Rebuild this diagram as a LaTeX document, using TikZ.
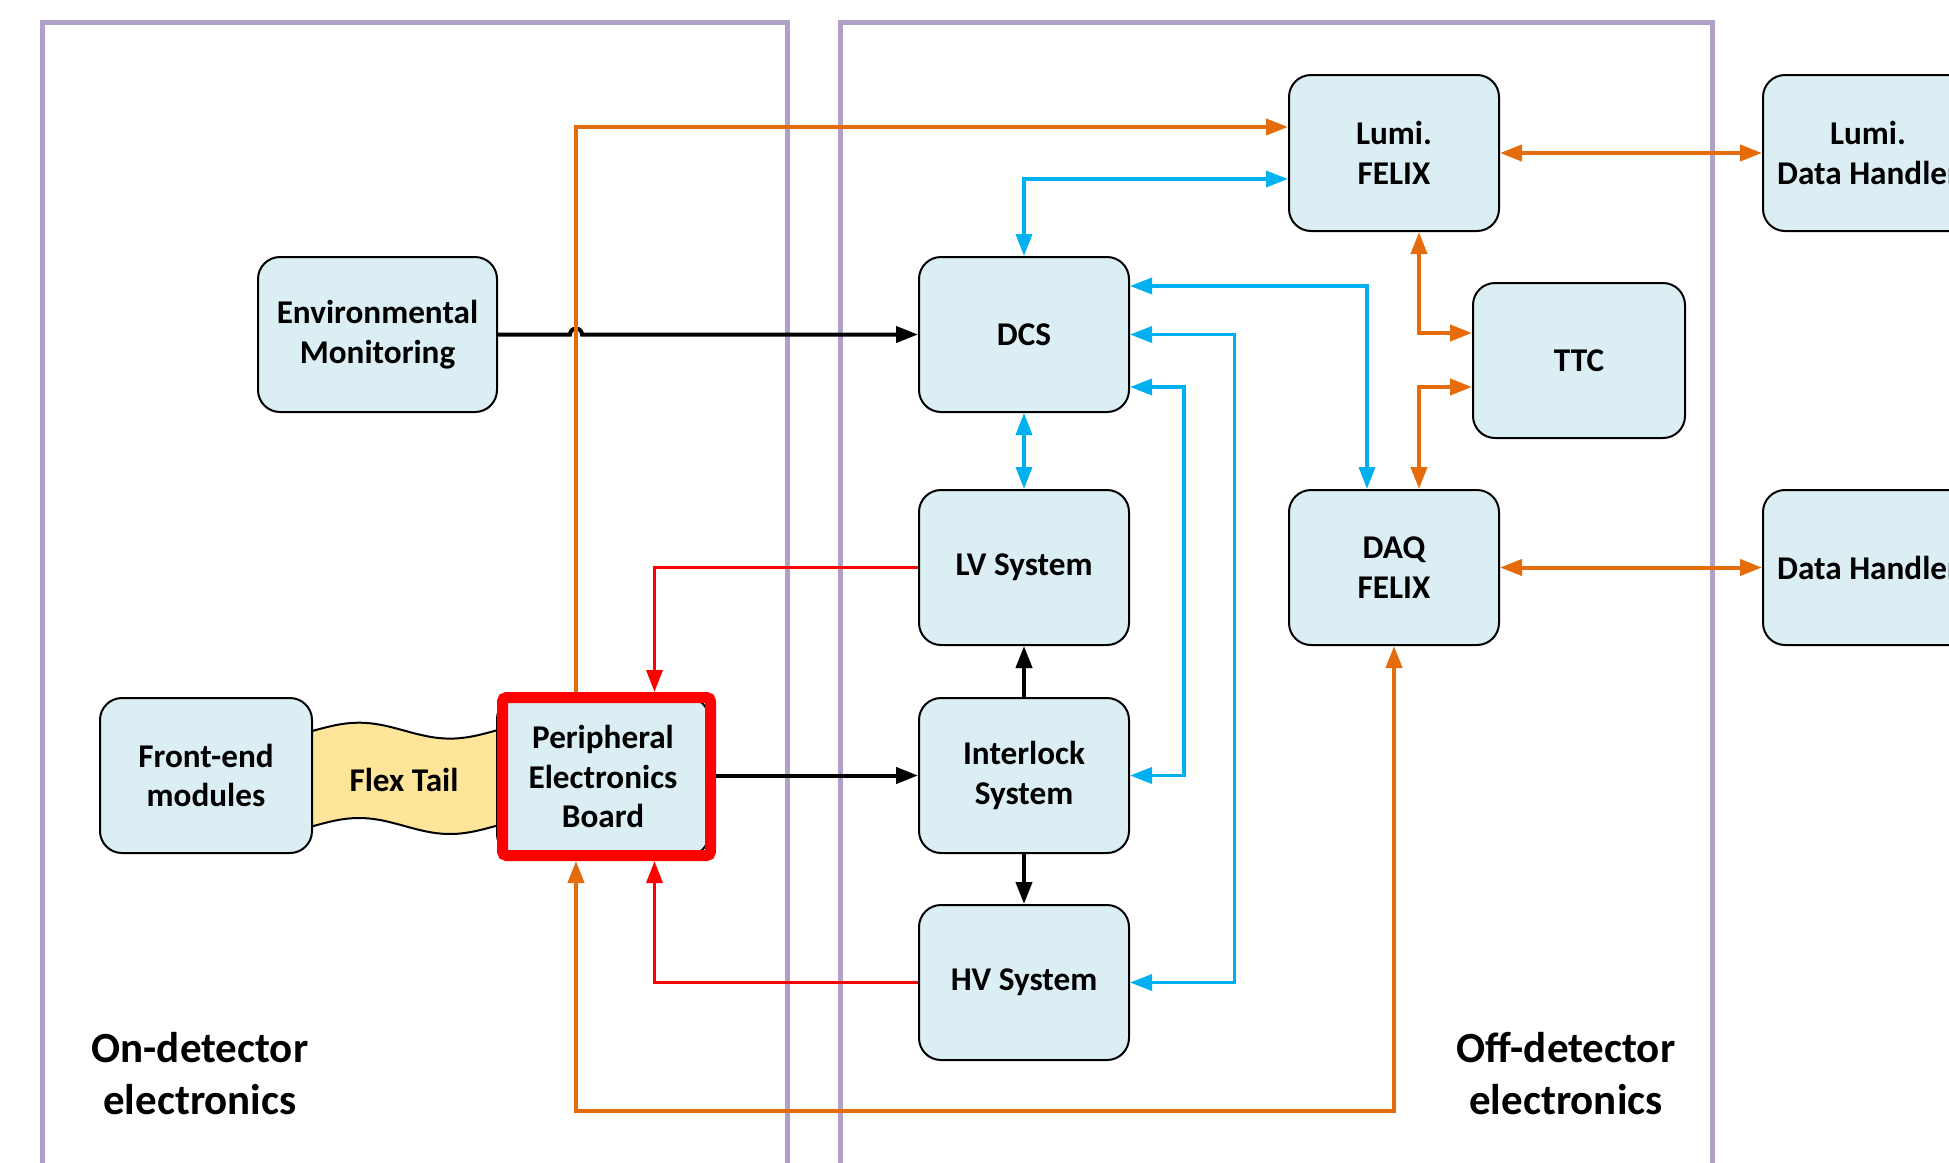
\documentclass[tikz,border=0pt]{standalone}
\usepackage{fontspec}
\setmainfont{Carlito}
\usetikzlibrary{arrows.meta,calc}
\definecolor{boxblue}{RGB}{218,238,243}
\definecolor{myorange}{RGB}{228,108,10}
\definecolor{myblue}{RGB}{0,176,240}
\definecolor{framecol}{RGB}{176,160,200}
\definecolor{flexfill}{RGB}{255,229,153}
\newcommand\bxfont{\bfseries\fontsize{16.6}{19.9}\selectfont}
\newcommand\lblfont{\bfseries\fontsize{21.5}{26}\selectfont}
\tikzset{
  boxst/.style={draw=black, line width=1pt, fill=boxblue, rounded corners=11pt,
    minimum width=105pt, minimum height=77.5pt, inner sep=0pt, align=center, font=\bxfont},
  conn/.style={line width=2pt, >={Triangle[length=11pt,width=8pt]}},
  orng/.style={conn, draw=myorange},
  blu/.style={conn, line width=1.75pt, draw=myblue},
  blk/.style={conn, draw=black},
  rd/.style={conn, line width=1.75pt, draw=red},
  framest/.style={draw=framecol, line width=2.5pt}
}
\begin{document}
\begin{tikzpicture}[x=0.5pt,y=-0.5pt]
\useasboundingbox (0,0) rectangle (1949,1162);
\clip (0,0) rectangle (1949,1162);
% frames
\draw[framest] (42,1200) -- (42,22) -- (787,22) -- (787,1200);
\draw[framest] (840,1200) -- (840,22) -- (1712,22) -- (1712,1200);
% flex tail
\fill[flexfill] plot[domain=312:497,samples=50] (\x,{730.65-7.95*cos((\x-359)/91*180)})
  -- plot[domain=497:312,samples=50] (\x,{826-8*cos((\x-359)/91*180)}) -- cycle;
\draw[line width=1pt] plot[domain=312:497,samples=50] (\x,{730.65-7.95*cos((\x-359)/91*180)});
\draw[line width=1pt] plot[domain=312:497,samples=50] (\x,{826-8*cos((\x-359)/91*180)});
\node[font=\bxfont] (flex) at (404,779.5) {Flex Tail};
% boxes
\node[boxst, minimum width=119.5pt] (env) at (377.5,334.5) {Environmental\\Monitoring};
\node[boxst] (dcs) at (1024,334.5) {DCS};
\node[boxst, minimum height=78pt] (lfelix) at (1394,153) {Lumi.\\FELIX};
\node[boxst, minimum height=78pt] (ldh) at (1868,153) {Lumi.\\Data Handler};
\node[boxst, minimum width=106pt] (ttc) at (1579,360.5) {TTC};
\node[boxst] (lv) at (1024,567.5) {LV System};
\node[boxst] (daq) at (1394,567.5) {DAQ\\FELIX};
\node[boxst] (dh) at (1868,567.5) {Data Handler};
\node[boxst] (il) at (1024,775.5) {Interlock\\System};
\node[boxst] (hv) at (1024,982.5) {HV System};
\node[boxst, minimum width=106pt] (fe) at (206,775.5) {Front-end\\modules};
\node[boxst, minimum width=106pt, minimum height=79.5pt] (peb) at (603,776.5) {Peripheral\\Electronics\\Board};
\node[draw=red, line width=5.5pt, rounded corners=2pt, minimum width=104pt, minimum height=79pt, inner sep=0pt] (pebf) at (606.5,776.5) {};
% labels
\node[font=\lblfont, align=center] (onl) at (200,1074) {On-detector\\electronics};
\node[font=\lblfont, align=center] (offl) at (1566,1074) {Off-detector\\electronics};
% helper coordinates
\coordinate (xo) at (576,0);
\coordinate (xr) at (654.5,0);
\coordinate (xt) at (1419,0);
\coordinate (xb1) at (1367,0);
\coordinate (xb2) at (1234.5,0);
\coordinate (xb3) at (1184,0);
\coordinate (yb) at (0,1111);
\coordinate (hopL) at (570,334.5);
\coordinate (d1) at ([yshift=24.25pt]dcs.east);
\coordinate (d3) at ([yshift=-26.25pt]dcs.east);
% black
\draw[blk,->] (env.east) -- (hopL) arc[start angle=180,end angle=0,radius=3pt] -- (dcs.west);
\draw[blk,->] (pebf.east |- il.west) -- (il.west);
\draw[blk,->] (il.north) -- (lv.south);
\draw[blk,->] (il.south) -- (hv.north);
% orange
\draw[orng,->] (pebf.north -| xo) |- ([yshift=13pt]lfelix.west);
\draw[orng,<->] (lfelix.east) -- (ldh.west);
\draw[orng,<->] (daq.east) -- (dh.west);
\draw[orng,<->] (lfelix.south -| xt) |- ([yshift=13.75pt]ttc.west);
\draw[orng,<->] (daq.north -| xt) |- ([yshift=-13.25pt]ttc.west);
\draw[orng,<->] (pebf.south -| xo) -- (xo |- yb) -| (daq.south);
% blue
\draw[blu,<->] (dcs.north) |- ([yshift=-13pt]lfelix.west);
\draw[blu,<->] (d1) -| (daq.north -| xb1);
\draw[blu,<->] (dcs.east) -- (dcs.east -| xb2) |- (hv.east);
\draw[blu,<->] (d3) -- (d3 -| xb3) |- (il.east);
\draw[blu,<->] (dcs.south) -- (lv.north);
% red
\draw[rd,->] (lv.west) -| (pebf.north -| xr);
\draw[rd,->] (hv.west) -| (pebf.south -| xr);
\end{tikzpicture}
\end{document}
